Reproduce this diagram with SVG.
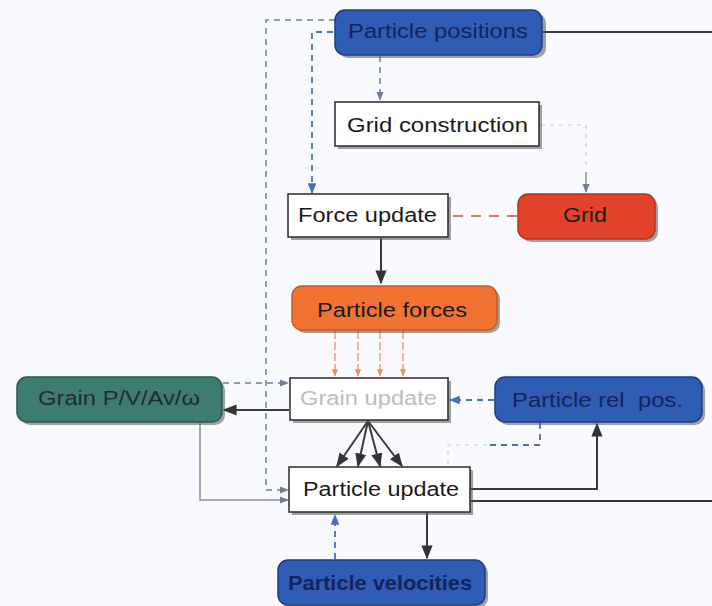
<svg xmlns="http://www.w3.org/2000/svg" width="712" height="606" viewBox="0 0 712 606">
  <defs>
    <style>
      .lbl { font-family: "Liberation Sans", Arial, sans-serif; font-size: 20px; white-space: pre; }
      .dark { fill: #14235e; }
      .blk { fill: #1a1a1a; }
      .teal-t { fill: #1f2e2c; }
      .gray-t { fill: #bdbdbd; }
      .shadow { fill: #555; opacity: 0.55; }
      .box-w { fill: #ffffff; stroke: #2a2a2a; stroke-width: 1.5; }
      .box-b { fill: #2f5db3; stroke: #1d3c86; stroke-width: 1.5; }
      .box-r { fill: #e3432b; stroke: #b8321d; stroke-width: 1.5; }
      .box-o { fill: #f27331; stroke: #c95a20; stroke-width: 1.5; }
      .box-t { fill: #3e7b71; stroke: #2b5a52; stroke-width: 1.5; }
      .solid { fill: none; stroke: #3a3a3a; stroke-width: 2; }
      .solid-l { fill: none; stroke: #8a8f96; stroke-width: 1.5; }
      .dash-g { fill: none; stroke: #6f7e99; stroke-width: 1.5; stroke-dasharray: 6 5; }
      .dash-b { fill: none; stroke: #4a6fbf; stroke-width: 1.8; stroke-dasharray: 6 5; }
      .dash-r { fill: none; stroke: #e0503a; stroke-width: 1.5; stroke-dasharray: 10 8; }
      .dash-o { fill: none; stroke: #f3a06a; stroke-width: 1.5; stroke-dasharray: 8 3; }
      .faint { fill: none; stroke: #c8ccd4; stroke-width: 1.2; stroke-dasharray: 4 5; }
    </style>
    <marker id="ah" viewBox="0 0 10 10" refX="9" refY="5" markerWidth="7" markerHeight="7" orient="auto">
      <path d="M0,1 L10,5 L0,9 z" fill="#333"/>
    </marker>
    <marker id="ahb" viewBox="0 0 10 10" refX="9" refY="5" markerWidth="6" markerHeight="6" orient="auto">
      <path d="M0,1 L10,5 L0,9 z" fill="#4a6fbf"/>
    </marker>
    <marker id="ahg" viewBox="0 0 10 10" refX="9" refY="5" markerWidth="6" markerHeight="6" orient="auto">
      <path d="M0,1 L10,5 L0,9 z" fill="#6f7e99"/>
    </marker>
    <marker id="aho" viewBox="0 0 10 10" refX="9" refY="5" markerWidth="5" markerHeight="5" orient="auto">
      <path d="M0,1 L10,5 L0,9 z" fill="#e89060"/>
    </marker>
  </defs>

  <rect x="0" y="0" width="712" height="606" fill="#f9fafd"/>

  <!-- connectors -->
  <g id="connectors">
    <!-- positions: out to the right edge -->
    <path class="solid" d="M543,32 H712"/>
    <!-- positions -> particle update (outer dashed loop) -->
    <path class="dash-g" d="M335,20 H266 V490 H288" marker-end="url(#ahg)"/>
    <!-- positions -> force update -->
    <path class="dash-b" d="M333,32 H312 V193" marker-end="url(#ahb)"/>
    <!-- positions -> grid construction -->
    <path class="dash-g" d="M380,56 V100" marker-end="url(#ahg)"/>
    <!-- grid construction -> grid -->
    <path class="faint" d="M541,125 H586 V170"/>
    <path class="solid-l" d="M586,172 V192" marker-end="url(#ahg)"/>
    <!-- grid -> force update -->
    <path class="dash-r" d="M517,216 H450"/>
    <!-- force update -> particle forces -->
    <path class="solid" d="M381,238 V283" marker-end="url(#ah)"/>
    <!-- particle forces -> grain update -->
    <path class="dash-o" d="M335,331 V376" marker-end="url(#aho)"/>
    <path class="dash-o" d="M358,331 V376" marker-end="url(#aho)"/>
    <path class="dash-o" d="M380,331 V376" marker-end="url(#aho)"/>
    <path class="dash-o" d="M403,331 V376" marker-end="url(#aho)"/>
    <!-- grain P/V -> grain update (dashed) -->
    <path class="dash-g" d="M223,383 H288" marker-end="url(#ahg)"/>
    <!-- grain update -> grain P/V -->
    <path class="solid" d="M289,410 H224" marker-end="url(#ah)"/>
    <!-- grain P/V -> particle update -->
    <path class="solid-l" d="M200,423 V500 H288" marker-end="url(#ahg)"/>
    <!-- rel. pos -> grain update -->
    <path class="dash-b" d="M494,400 H450" marker-end="url(#ahb)"/>
    <!-- rel. pos -> particle update -->
    <path class="dash-b" d="M540,423 V445 H487"/>
    <path class="faint" d="M487,445 H448 V465"/>
    <!-- grain update -> particle update (fan) -->
    <path class="solid" d="M368,421 L337,466" marker-end="url(#ah)"/>
    <path class="solid" d="M368,421 L358,466" marker-end="url(#ah)"/>
    <path class="solid" d="M368,421 L380,466" marker-end="url(#ah)"/>
    <path class="solid" d="M368,421 L402,466" marker-end="url(#ah)"/>
    <!-- particle update -> rel. pos -->
    <path class="solid" d="M471,489 H597 V424" marker-end="url(#ah)"/>
    <!-- particle update -> right edge -->
    <path class="solid" d="M471,501 H712"/>
    <!-- particle update -> velocities -->
    <path class="solid" d="M427,513 V558" marker-end="url(#ah)"/>
    <!-- velocities -> particle update -->
    <path class="dash-b" d="M335,559 V515" marker-end="url(#ahb)"/>
  </g>

  <!-- nodes -->
  <g id="particle-positions">
    <rect class="shadow" x="338" y="13" width="208" height="45" rx="10"/>
    <rect class="box-b" x="335" y="10" width="207" height="45" rx="10"/>
    <text class="lbl dark" x="348" y="38" textLength="180" lengthAdjust="spacingAndGlyphs">Particle positions</text>
  </g>

  <g id="grid-construction">
    <rect class="shadow" x="338" y="105" width="204" height="44"/>
    <rect class="box-w" x="335" y="102" width="204" height="44"/>
    <text class="lbl blk" x="347" y="132" textLength="181" lengthAdjust="spacingAndGlyphs">Grid construction</text>
  </g>

  <g id="force-update">
    <rect class="shadow" x="291" y="197" width="160" height="43"/>
    <rect class="box-w" x="288" y="194" width="160" height="43"/>
    <text class="lbl blk" x="298" y="222" textLength="139" lengthAdjust="spacingAndGlyphs">Force update</text>
  </g>

  <g id="grid">
    <rect class="shadow" x="521" y="197" width="137" height="45" rx="10"/>
    <rect class="box-r" x="518" y="194" width="137" height="45" rx="10"/>
    <text class="lbl blk" x="563" y="222" textLength="44" lengthAdjust="spacingAndGlyphs">Grid</text>
  </g>

  <g id="particle-forces">
    <rect class="shadow" x="295" y="289" width="205" height="44" rx="10"/>
    <rect class="box-o" x="292" y="286" width="205" height="44" rx="10"/>
    <text class="lbl blk" x="317" y="317" textLength="150" lengthAdjust="spacingAndGlyphs">Particle forces</text>
  </g>

  <g id="grain-pvav">
    <rect class="shadow" x="20" y="380" width="205" height="45" rx="10"/>
    <rect class="box-t" x="17" y="377" width="205" height="45" rx="10"/>
    <text class="lbl teal-t" x="38" y="405" textLength="162" lengthAdjust="spacingAndGlyphs">Grain P/V/Av/ω</text>
  </g>

  <g id="grain-update">
    <rect class="shadow" x="293" y="381" width="158" height="42"/>
    <rect class="box-w" x="290" y="378" width="158" height="42"/>
    <text class="lbl gray-t" x="300" y="405" textLength="137" lengthAdjust="spacingAndGlyphs">Grain update</text>
  </g>

  <g id="particle-rel-pos">
    <rect class="shadow" x="498" y="380" width="207" height="45" rx="10"/>
    <rect class="box-b" x="495" y="377" width="207" height="45" rx="10"/>
    <text class="lbl dark" x="512" y="407" textLength="171" lengthAdjust="spacingAndGlyphs" xml:space="preserve">Particle rel  pos.</text>
  </g>

  <g id="particle-update">
    <rect class="shadow" x="292" y="470" width="181" height="45"/>
    <rect class="box-w" x="289" y="467" width="181" height="45"/>
    <text class="lbl blk" x="303" y="496" textLength="156" lengthAdjust="spacingAndGlyphs">Particle update</text>
  </g>

  <g id="particle-velocities">
    <rect class="shadow" x="281" y="563" width="207" height="45" rx="10"/>
    <rect class="box-b" x="278" y="560" width="207" height="45" rx="10"/>
    <text class="lbl dark" x="288" y="590" textLength="184" lengthAdjust="spacingAndGlyphs" font-weight="bold">Particle velocities</text>
  </g>
</svg>
